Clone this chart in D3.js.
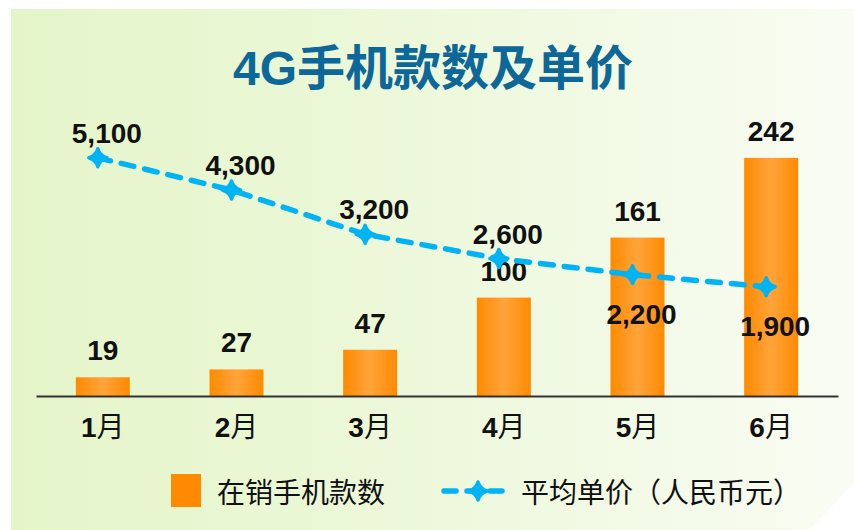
<!DOCTYPE html>
<html><head><meta charset="utf-8">
<script src="https://cdn.jsdelivr.net/npm/d3@7"></script>
<style>html,body{margin:0;padding:0;background:#fff;}svg{display:block;}</style>
</head><body>
<svg id="c" width="854" height="530"></svg>
<script>
const title = "4G手机款数及单价";
const months = ["1月","2月","3月","4月","5月","6月"];
const models = [19, 27, 47, 100, 161, 242];
const prices = [5100, 4300, 3200, 2600, 2200, 1900];
const priceLabelBelow = [false, false, false, false, true, true];
const legendNames = ["在销手机款数", "平均单价（人民币元）"];

const svg = d3.select("#c");
const defs = svg.append("defs");
const bg = defs.append("linearGradient").attr("id","bg").attr("x1","0").attr("x2","1").attr("y1","0").attr("y2","0");
bg.append("stop").attr("offset","0").attr("stop-color","#e5f5c9");
bg.append("stop").attr("offset","0.45").attr("stop-color","#ecf8d9");
bg.append("stop").attr("offset","1").attr("stop-color","#f9fcf3");
const bg2 = defs.append("linearGradient").attr("id","bar").attr("x1","0").attr("x2","1").attr("y1","0").attr("y2","0");
bg2.append("stop").attr("offset","0").attr("stop-color","#ff8a00");
bg2.append("stop").attr("offset","0.5").attr("stop-color","#ffa43a");
bg2.append("stop").attr("offset","1").attr("stop-color","#ff8a00");

svg.append("rect").attr("x",11).attr("y",9).attr("width",843).attr("height",521).attr("fill","url(#bg)");
svg.append("path").attr("d","M809,530L854,483L854,530Z").attr("fill","#ffffff");

svg.append("text").attr("x",433).attr("y",85).attr("text-anchor","middle")
  .attr("font-family","'Liberation Sans','Noto Sans CJK SC',sans-serif").attr("font-weight","bold")
  .attr("font-size",48).attr("fill","#0d6798").text(title);

const x = d3.scaleBand().domain(months).range([36,838]).paddingInner(0.596).paddingOuter(0.298);
const yBar = d3.scaleLinear().domain([0,250]).range([396,150]);
const yLine = d3.scaleLinear().domain([0,6000]).range([363.3,121.5]);
const cx = m => x(m) + x.bandwidth()/2;

svg.append("g").selectAll("rect").data(months).join("rect")
  .attr("x", m => x(m)).attr("width", x.bandwidth())
  .attr("y", (m,i) => yBar(models[i])).attr("height", (m,i) => yBar(0)-yBar(models[i]))
  .attr("fill","url(#bar)");

const axis = svg.append("g").attr("transform","translate(0,396)").call(d3.axisBottom(x).tickSize(0).tickFormat(""));
axis.select(".domain").attr("stroke","#333").attr("stroke-width",1.8);

const numFont = "'Liberation Sans',Arial,sans-serif";
svg.append("g").selectAll("text").data(months).join("text")
  .attr("x", m => cx(m)).attr("y", (m,i) => yBar(models[i]) - 17)
  .attr("text-anchor","middle").attr("font-family",numFont).attr("font-weight","bold")
  .attr("font-size",28).attr("fill","#111").text((m,i) => d3.format(",")(models[i]));

const lineGen = d3.line().x((d,i) => cx(months[i]) - 5).y(d => yLine(d));
svg.append("path").datum(prices).attr("d", lineGen).attr("fill","none")
  .attr("stroke","#00b4f4").attr("stroke-width",5.5).attr("stroke-linecap","round")
  .attr("stroke-dasharray","13,11");

const diamond = "M0,-9Q2,-2 9,0Q2,2 0,9Q-2,2 -9,0Q-2,-2 0,-9Z";
svg.append("g").selectAll("path").data(prices).join("path")
  .attr("transform",(d,i) => `translate(${cx(months[i])-5},${yLine(d)})`)
  .attr("d", diamond).attr("fill","#00b4f4").attr("stroke","#00b4f4").attr("stroke-width",3.5).attr("stroke-linejoin","round");

svg.append("g").selectAll("text").data(prices).join("text")
  .attr("x",(d,i) => cx(months[i]) + 4)
  .attr("y",(d,i) => priceLabelBelow[i] ? yLine(d) + 49 : yLine(d) - 15)
  .attr("text-anchor","middle").attr("font-family",numFont).attr("font-weight","bold")
  .attr("font-size",28).attr("fill","#111").text(d => d3.format(",")(d));

const xl = svg.append("g").selectAll("text").data(months).join("text")
  .attr("x", m => cx(m)).attr("y", 437).attr("text-anchor","middle")
  .attr("font-size",28).attr("fill","#111");
xl.append("tspan").attr("font-family",numFont).attr("font-weight","bold").text(m => m.slice(0,-1));
xl.append("tspan").attr("font-family","'Noto Sans CJK SC',sans-serif").attr("font-weight","normal").text(m => m.slice(-1));

// legend
svg.append("rect").attr("x",171).attr("y",474).attr("width",30).attr("height",33).attr("fill","#ff8a00");
svg.append("text").attr("x",217).attr("y",491).attr("dominant-baseline","central")
  .attr("font-family","'Noto Sans CJK SC',sans-serif").attr("font-size",28).attr("fill","#111").text(legendNames[0]);
svg.append("line").attr("x1",444).attr("x2",503).attr("y1",491).attr("y2",491)
  .attr("stroke","#00b4f4").attr("stroke-width",5.5).attr("stroke-linecap","round").attr("stroke-dasharray","12,11");
svg.append("path").attr("transform","translate(478,491)").attr("d",diamond)
  .attr("fill","#00b4f4").attr("stroke","#00b4f4").attr("stroke-width",3.5).attr("stroke-linejoin","round");
svg.append("text").attr("x",521).attr("y",491).attr("dominant-baseline","central")
  .attr("font-family","'Noto Sans CJK SC',sans-serif").attr("font-size",28).attr("fill","#111").text(legendNames[1]);
</script>
</body></html>
